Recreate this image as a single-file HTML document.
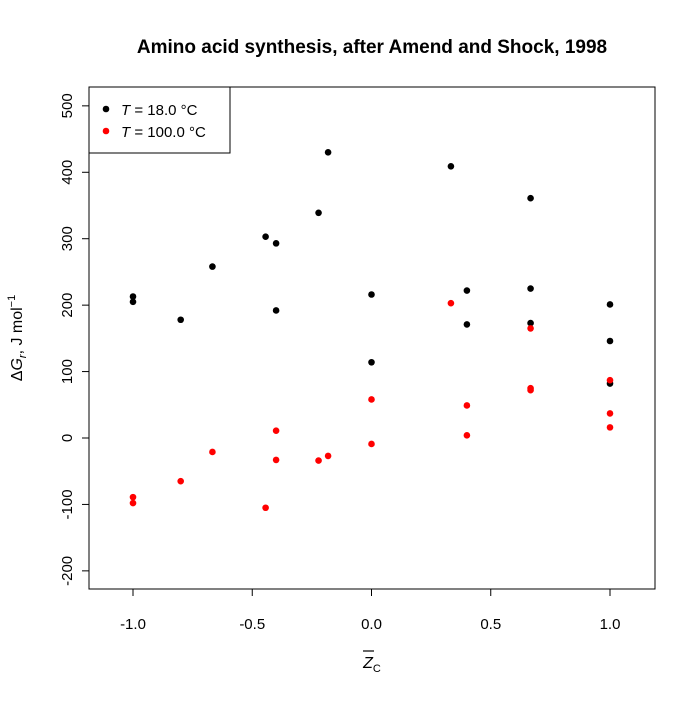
<!DOCTYPE html>
<html><head><meta charset="utf-8"><style>
body{margin:0;background:#fff;}
svg{font-family:"Liberation Sans",sans-serif;}
</style></head><body>
<svg id="chart" width="700" height="700" viewBox="0 0 700 700" xmlns="http://www.w3.org/2000/svg">
<rect width="700" height="700" fill="#fff"/>
<text x="372" y="53" text-anchor="middle" font-size="19" font-weight="bold">Amino acid synthesis, after Amend and Shock, 1998</text>
<rect x="89" y="87" width="566" height="502" fill="none" stroke="#000"/>
<g id="xaxis"></g>
<g id="yaxis"></g>
<g id="pts"></g>
<text x="372" y="668" text-anchor="middle" font-size="16"><tspan font-style="italic">Z</tspan><tspan font-size="11" dy="4">C</tspan></text>
<line x1="363" y1="651" x2="374" y2="651" stroke="#000" stroke-width="1.2"/>
<text transform="translate(22,338) rotate(-90)" text-anchor="middle" font-size="16">Δ<tspan font-style="italic">G</tspan><tspan font-size="11" dy="4" font-style="italic">r</tspan><tspan dy="-4">, J mol</tspan><tspan font-size="11" dy="-7">−1</tspan></text>
<g>
<rect x="89" y="87" width="141" height="66" fill="#fff" stroke="#000"/>
<circle cx="106" cy="109" r="3.3" fill="#000"/>
<text x="121" y="115" font-size="15"><tspan font-style="italic">T</tspan> = 18.0 °C</text>
<circle cx="106" cy="131" r="3.3" fill="#f00"/>
<text x="121" y="137" font-size="15"><tspan font-style="italic">T</tspan> = 100.0 °C</text>
</g>
</svg>
<script>
const xTicks=[-1,-0.5,0,0.5,1];
const xTickLabels=["-1.0","-0.5","0.0","0.5","1.0"];
const yTicks=[-200,-100,0,100,200,300,400,500];
const blackX=[-1,-1,-0.8,-0.667,-0.444,-0.4,-0.4,-0.222,-0.182,0,0,0.333,0.4,0.4,0.667,0.667,0.667,1,1,1];
const blackY=[213,205,178,258,303,293,192,339,430,216,114,409,222,171,361,225,173,201,146,82];
const redX=[-1,-1,-0.8,-0.667,-0.444,-0.4,-0.4,-0.222,-0.182,0,0,0.333,0.4,0.4,0.667,0.667,0.667,1,1,1];
const redY=[-89,-98,-65,-21,-105,11,-33,-34,-27,58,-9,203,49,4,165,75,72,87,37,16];
const sx=v=>371.5+v*238.5;
const sy=v=>438-v*0.6643;
const NS="http://www.w3.org/2000/svg";
function mk(t,a,p){const e=document.createElementNS(NS,t);for(const k in a)e.setAttribute(k,a[k]);p.appendChild(e);return e;}
const xa=document.getElementById('xaxis');
mk('line',{x1:sx(-1),y1:589,x2:sx(1),y2:589,stroke:'#000'},xa);
xTicks.forEach((v,i)=>{
const l=mk('line',{x1:sx(v),y1:589,x2:sx(v),y2:596,stroke:'#000'},xa);


const t=mk('text',{x:sx(v),y:629,'text-anchor':'middle','font-size':15},xa);
t.textContent=xTickLabels[i];


});
const ya=document.getElementById('yaxis');
mk('line',{x1:89,y1:sy(-200),x2:89,y2:sy(500),stroke:'#000'},ya);
yTicks.forEach(v=>{
const l=mk('line',{x1:82,y1:sy(v),x2:89,y2:sy(v),stroke:'#000'},ya);


const t=mk('text',{transform:`translate(72,${sy(v)}) rotate(-90)`,'text-anchor':'middle','font-size':15},ya);
t.textContent=String(v);


});
const pg=document.getElementById('pts');
blackX.forEach((x,i)=>{
const c=mk('circle',{cx:sx(x),cy:sy(blackY[i]),r:3.3,fill:'#000'},pg);


});
redX.forEach((x,i)=>{
const c=mk('circle',{cx:sx(x),cy:sy(redY[i]),r:3.3,fill:'#f00'},pg);


});
</script>
</body></html>
